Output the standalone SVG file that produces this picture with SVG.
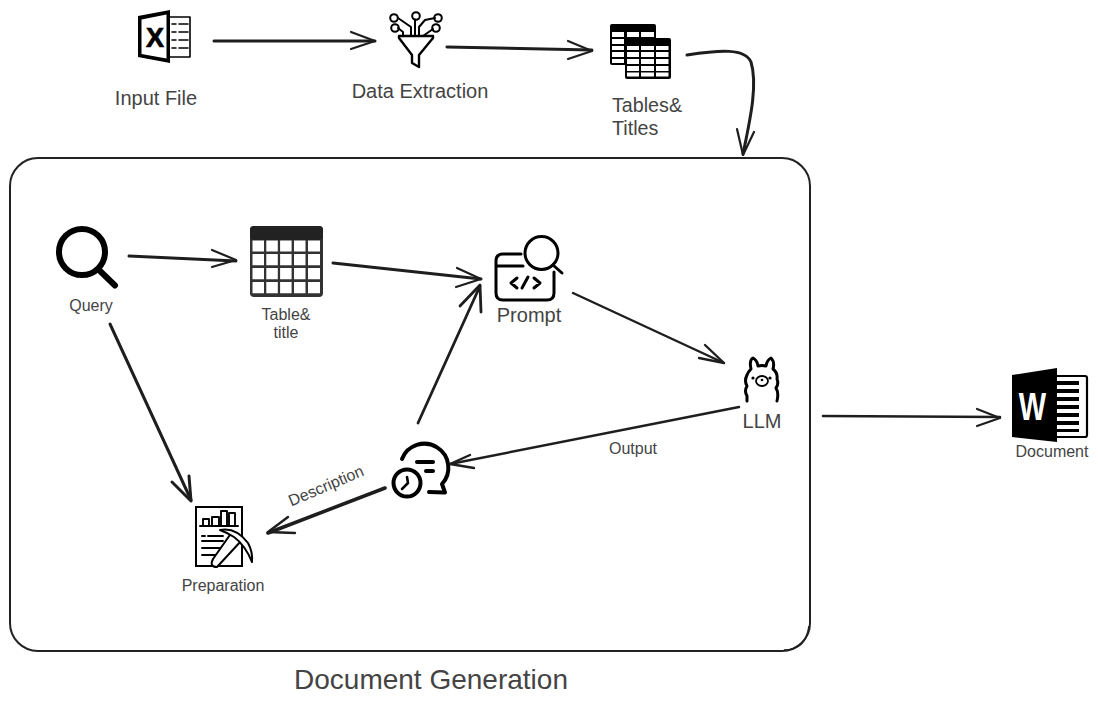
<svg xmlns="http://www.w3.org/2000/svg" width="1098" height="705" viewBox="0 0 1098 705">
<style>
text{font-family:"Liberation Sans",Arial,sans-serif;fill:#444}
.c{fill:none;stroke:#1e1e1e;stroke-linecap:round;stroke-linejoin:round}
.i{fill:none;stroke:#000;stroke-linecap:round;stroke-linejoin:round}
.k{fill:#000;stroke:none}
.w{fill:#fff;stroke:none}
</style>
<rect width="1098" height="705" fill="#fff"/>
<g id="document-generation">
<rect x="10" y="158" width="800" height="493" rx="28" fill="none" stroke="#222" stroke-width="2"/>
<path d="M784 650Q806 650 809 626" fill="none" stroke="#222" stroke-width="1.600"/>
<text x="431" y="689" font-size="28" text-anchor="middle">Document Generation</text>
</g>
<g id="input-file">
<path class="k" d="M138 16L170 10V63L138 57ZM141.500 19.500V54L166.500 58.500V14.500Z"/>
<path class="i" stroke-width="1.600" d="M170 17H190V57H170M172 24H176M179 24H188M172 32H176M179 32H188M172 40H176M179 40H188M172 48H176M179 48H188"/>
<text x="155" y="47" font-size="27" font-weight="700" text-anchor="middle" stroke="#000" stroke-width="0.700" style="fill:#000">X</text>
<text x="156" y="105" font-size="20" text-anchor="middle">Input File</text>
</g>
<g id="data-extraction">
<path class="i" stroke-width="2.400" d="M399 36H433V38L419 55V67L412 63V55L399 38Z"/>
<path class="i" stroke-width="2" d="M411 36V27L398 18M415 36V19.500M419 36V27L425 20L435 18M423 36L433 29M403 36V32L398 28"/>
<circle class="i" stroke-width="2" cx="394" cy="18" r="3.800"/><circle class="i" stroke-width="2" cx="395" cy="28" r="3.800"/><circle class="i" stroke-width="2" cx="416" cy="16" r="3.800"/><circle class="i" stroke-width="2" cx="438" cy="18" r="3.800"/><circle class="i" stroke-width="2" cx="436" cy="28" r="3.800"/>
<text x="420" y="98" font-size="20" text-anchor="middle">Data Extraction</text>
</g>
<g id="tables-titles">
<rect class="k" x="610" y="24" width="46" height="41" rx="2"/>
<path class="w" d="M612 32H624V37H612ZM627 32H639V37H627ZM641 32H654V37H641ZM612 39H624V44H612ZM612 46H624V50H612ZM612 52H624V57H612ZM612 59H624V63H612Z"/>
<rect class="k" x="625" y="38" width="46" height="41" rx="2"/>
<path class="w" d="M627 46H639V50H627ZM641 46H654V50H641ZM656 46H668.500V50H656ZM627 52H639V57H627ZM641 52H654V57H641ZM656 52H668.500V57H656ZM627 59H639V64H627ZM641 59H654V64H641ZM656 59H668.500V64H656ZM627 66H639V71H627ZM641 66H654V71H641ZM656 66H668.500V71H656ZM627 72.500H639V76.500H627ZM641 72.500H654V76.500H641ZM656 72.500H668.500V76.500H656Z"/>
<text x="612" y="112" font-size="19.700">Tables&amp;</text>
<text x="612" y="135" font-size="19.700">Titles</text>
</g>
<g id="query">
<circle class="i" stroke-width="6" cx="82" cy="252" r="23"/>
<path class="i" stroke-width="6" d="M99 270L115 285.500"/>
<text x="91" y="311" font-size="16" text-anchor="middle">Query</text>
</g>
<g id="table-title">
<rect x="250" y="226" width="73" height="71" rx="4" fill="#333"/>
<rect x="250" y="226" width="73" height="14" rx="4" fill="#222"/>
<path class="w" d="M252.500 240.500H264V251.500H252.500ZM266.300 240.500H277.800V251.500H266.300ZM280.100 240.500H291.600V251.500H280.100ZM294 240.500H305.500V251.500H294ZM308 240.500H320V251.500H308ZM252.500 254H264V265.300H252.500ZM266.300 254H277.800V265.300H266.300ZM280.100 254H291.600V265.300H280.100ZM294 254H305.500V265.300H294ZM308 254H320V265.300H308ZM252.500 268H264V279.200H252.500ZM266.300 268H277.800V279.200H266.300ZM280.100 268H291.600V279.200H280.100ZM294 268H305.500V279.200H294ZM308 268H320V279.200H308ZM252.500 282H264V293.300H252.500ZM266.300 282H277.800V293.300H266.300ZM280.100 282H291.600V293.300H280.100ZM294 282H305.500V293.300H294ZM308 282H320V293.300H308Z"/>
<text x="286" y="320" font-size="16" text-anchor="middle">Table&amp;</text>
<text x="286" y="338" font-size="16" text-anchor="middle">title</text>
</g>
<g id="prompt">
<path class="i" stroke-width="3" d="M521 254H503Q496 254 496 261V293Q496 300 503 300H547Q554 300 554 293V272M496 266H523"/>
<circle class="i" stroke-width="3" cx="541.500" cy="253" r="16.500"/>
<path class="i" stroke-width="3" d="M553 265L562 273M517 278L511 283L517 288M522 288L528 277M534 278L540 283L534 288"/>
<text x="529" y="322" font-size="20" text-anchor="middle">Prompt</text>
</g>
<g id="llm">
<path class="i" stroke-width="3" d="M747 401V396Q744 391 747 386Q744 381 747 375Q748 372 751 369Q749 360 753 358Q757 360 758 366Q762 365 766 366Q767 360 771 358Q775 362 773 369Q778 373 777 379Q779 384 776 388Q779 393 777 401"/>
<ellipse class="i" stroke-width="1.800" cx="762" cy="381" rx="6" ry="5"/>
<circle class="k" cx="753" cy="378" r="1.600"/><circle class="k" cx="770" cy="378" r="1.600"/><circle class="k" cx="762" cy="380" r="1.300"/>
<text x="762" y="428" font-size="20" text-anchor="middle">LLM</text>
</g>
<g id="description-node">
<path class="i" stroke-width="4" d="M402 459A24 24 0 1 1 442 484L445 492.500L429 492M417 462H433M426 471H433"/>
<circle class="i" stroke-width="4" cx="407" cy="483" r="13.500"/>
<path class="i" stroke-width="2.600" d="M407 477L408 483L402 489"/>
</g>
<g id="preparation">
<rect x="196" y="507" width="46" height="59" fill="#fff" stroke="#000" stroke-width="2"/>
<path class="i" stroke-width="1.900" d="M200 526H238M203 526V519H209V526M212 526V517H219V526M221 526V511H227V526M229 526V513H235V526M202 536H205M208 536H223M202 541H223M202 548H222M202 555H215"/>
<path d="M232 532L213 559Q209 567 217 567L242 540Z" fill="#fff" stroke="#000" stroke-width="2" stroke-linejoin="round"/>
<path d="M220 530Q236 527 248 543Q253 552 252 562Q245 545 234 537Q228 533 220 530Z" fill="#fff" stroke="#000" stroke-width="2" stroke-linejoin="round"/>
<text x="223" y="591" font-size="16" text-anchor="middle">Preparation</text>
</g>
<g id="document">
<path class="k" d="M1012 375L1057 368V442L1012 437Z"/>
<text transform="translate(1032.500 420) scale(1 1.360)" font-size="29" font-weight="700" text-anchor="middle" style="fill:#fff">W</text>
<path class="i" stroke-width="2.200" d="M1057 376H1085Q1087 376 1087 378V435Q1087 437 1085 437H1057"/>
<path class="k" d="M1057 381H1079V385H1057ZM1057 389H1079V393H1057ZM1057 397H1079V401H1057ZM1057 405H1079V409H1057ZM1057 413H1079V417H1057ZM1057 421H1079V425H1057ZM1057 429H1079V432H1057Z"/>
<text x="1052" y="457" font-size="16" text-anchor="middle">Document</text>
</g>
<g id="connectors">
<g class="c" stroke-width="3">
<path d="M214 41L375 41"/><path d="M351 32L375 41L351 49" stroke-width="2.200"/>
<path d="M447 47L592 50"/><path d="M568 41L592 51L568 59" stroke-width="2.200"/>
<path d="M687 55C720 50 745 48 751 62C758 85 750 120 743 154"/><path d="M737 129L743 155L754 132" stroke-width="2.200"/>
<path d="M129 256L236 261"/><path d="M212 250L236 260L212 267" stroke-width="2.200"/>
<path d="M333 263L481 279"/><path d="M457 268L481 279L456 287" stroke-width="2.200"/>
<path d="M573 293L724 363" stroke-width="2.400"/><path d="M705 345L724 363L699 358" stroke-width="2.400"/>
<path d="M110 324L191 500" stroke-width="3"/><path d="M172 482L191 501L189 476" stroke-width="3"/>
<path d="M418 423L480 286" stroke-width="2.800"/><path d="M460 306L480 285L481 312" stroke-width="2.800"/>
<path d="M739 407L450 464" stroke-width="2.400"/><path d="M470 455L450 464L474 468" stroke-width="2.400"/>
<path d="M385 488L268 533" stroke-width="3.600"/><path d="M288 517L268 532L295 533" stroke-width="2.400"/>
<path d="M823 416L1000 417" stroke-width="2.600"/><path d="M977 409L1000 418L977 426" stroke-width="2.200"/>
</g>
<text x="633" y="454" font-size="16" text-anchor="middle">Output</text>
<text x="327" y="491" font-size="16" text-anchor="middle" transform="rotate(-23 327 488)">Description</text>
</g>
</svg>
